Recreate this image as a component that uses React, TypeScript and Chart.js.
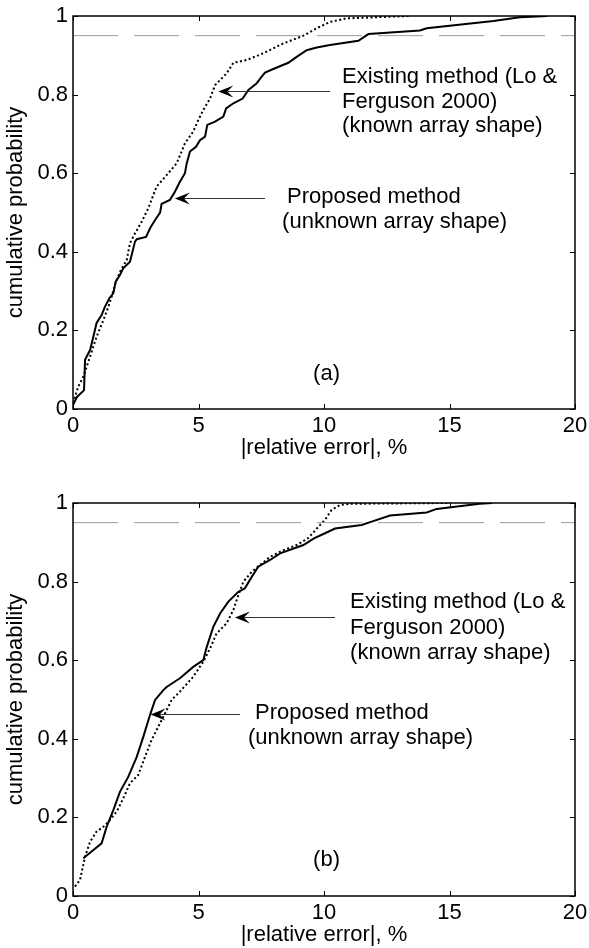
import React, { useEffect, useRef } from "react";
import { Chart, registerables } from "chart.js";

Chart.register(...registerables);

const FONT = "'Liberation Sans', Arial, Helvetica, sans-serif";

const xTicks = [0, 5, 10, 15, 20];
const yTicks = [0, 0.2, 0.4, 0.6, 0.8, 1];
const xAxisLabel = "|relative error|, %";
const yAxisLabel = "cumulative probability";
const threshold = 0.95;

// Panel (a)
const aProposedX = [0, 0.15, 0.44, 0.48, 0.68, 0.81, 0.94, 1.14, 1.27, 1.45, 1.61, 1.7, 1.87, 2.0, 2.27, 2.47, 2.54, 2.91, 3.07, 3.27, 3.47, 3.53, 3.86, 4.06, 4.26, 4.46, 4.53, 4.66, 4.9, 5.06, 5.26, 5.35, 5.66, 5.99, 6.1, 6.39, 6.76, 6.99, 7.32, 7.52, 7.65, 8.12, 8.58, 8.91, 9.31, 9.71, 10.24, 11.37, 11.77, 13.82, 14.09, 16.75, 17.8, 18.9];
const aProposedY = [0.01, 0.03, 0.048, 0.125, 0.15, 0.184, 0.219, 0.239, 0.26, 0.282, 0.295, 0.324, 0.341, 0.358, 0.375, 0.426, 0.432, 0.438, 0.46, 0.481, 0.5, 0.522, 0.532, 0.553, 0.578, 0.6, 0.625, 0.655, 0.667, 0.684, 0.693, 0.723, 0.731, 0.744, 0.765, 0.778, 0.79, 0.812, 0.829, 0.846, 0.856, 0.869, 0.881, 0.896, 0.913, 0.92, 0.926, 0.937, 0.954, 0.963, 0.969, 0.987, 0.997, 1.0];
const aExistingX = [0, 0.21, 0.41, 0.68, 0.81, 0.94, 1.21, 1.41, 1.54, 1.67, 1.87, 2.14, 2.27, 2.47, 2.74, 3.0, 3.33, 3.73, 4.13, 4.46, 4.79, 4.99, 5.19, 5.46, 5.66, 5.86, 6.12, 6.39, 6.92, 7.58, 8.3, 9.18, 9.71, 10.24, 10.9, 13.4];
const aExistingY = [0.015, 0.057, 0.082, 0.133, 0.159, 0.184, 0.226, 0.26, 0.286, 0.316, 0.349, 0.379, 0.422, 0.447, 0.477, 0.511, 0.566, 0.595, 0.625, 0.676, 0.706, 0.735, 0.761, 0.79, 0.824, 0.837, 0.854, 0.881, 0.888, 0.905, 0.928, 0.95, 0.969, 0.985, 0.994, 1.0];

// Panel (b)
const bProposedX = [0.41, 0.74, 1.14, 1.34, 1.61, 1.87, 2.2, 2.54, 2.8, 3.07, 3.27, 3.6, 3.73, 4.26, 4.79, 5.19, 5.33, 5.59, 5.86, 6.19, 6.59, 6.85, 7.12, 7.38, 7.85, 8.25, 9.18, 9.6, 10.04, 10.44, 11.5, 11.96, 12.63, 14.09, 14.49, 15.55, 16.2, 16.7];
const bProposedY = [0.096, 0.113, 0.134, 0.176, 0.219, 0.265, 0.303, 0.354, 0.405, 0.461, 0.499, 0.524, 0.532, 0.554, 0.583, 0.6, 0.634, 0.685, 0.719, 0.749, 0.774, 0.783, 0.812, 0.838, 0.855, 0.872, 0.893, 0.91, 0.923, 0.935, 0.944, 0.954, 0.968, 0.976, 0.985, 0.993, 0.998, 1.0];
const bExistingX = [0.08, 0.28, 0.48, 0.68, 0.94, 1.21, 1.47, 1.74, 2.0, 2.27, 2.6, 2.87, 3.13, 3.4, 3.67, 3.93, 4.26, 4.79, 5.19, 5.46, 5.72, 6.12, 6.39, 6.59, 6.79, 7.12, 7.45, 7.85, 8.38, 8.91, 9.38, 9.71, 10.04, 10.3, 10.64, 11.04, 15.0];
const bExistingY = [0.024, 0.041, 0.1, 0.138, 0.164, 0.176, 0.193, 0.215, 0.248, 0.287, 0.308, 0.354, 0.397, 0.431, 0.465, 0.499, 0.52, 0.558, 0.596, 0.63, 0.668, 0.694, 0.728, 0.766, 0.8, 0.825, 0.842, 0.863, 0.88, 0.893, 0.911, 0.935, 0.957, 0.982, 0.995, 0.998, 1.0];

const existingLines = ["Existing method (Lo &", "Ferguson 2000)", "(known array shape)"];
const proposedLines = ["Proposed method", "(unknown array shape)"];

type Arrow = { x1: number; y1: number; x2: number; y2: number };
type Note = { x: number; y: number; text: string; align?: CanvasTextAlign };

type Panel = {
  proposedX: number[];
  proposedY: number[];
  existingX: number[];
  existingY: number[];
  arrows: Arrow[];
  notes: Note[];
  padTop: number;
  axisHeight: number;
  titlePad: number;
};

const panels: Panel[] = [
  {
    proposedX: aProposedX,
    proposedY: aProposedY,
    existingX: aExistingX,
    existingY: aExistingY,
    arrows: [
      { x1: 10.24, y1: 0.81, x2: 5.79, y2: 0.81 },
      { x1: 7.65, y1: 0.537, x2: 4.06, y2: 0.537 },
    ],
    notes: [
      { x: 10.72, y: 0.845, text: existingLines[0] },
      { x: 10.72, y: 0.782, text: existingLines[1] },
      { x: 10.72, y: 0.72, text: existingLines[2] },
      { x: 8.53, y: 0.539, text: proposedLines[0] },
      { x: 8.33, y: 0.476, text: proposedLines[1] },
      { x: 10.1, y: 0.09, text: "(a)", align: "center" },
    ],
    padTop: 16,
    axisHeight: 65,
    titlePad: 15,
  },
  {
    proposedX: bProposedX,
    proposedY: bProposedY,
    existingX: bExistingX,
    existingY: bExistingY,
    arrows: [
      { x1: 10.44, y1: 0.711, x2: 6.45, y2: 0.711 },
      { x1: 6.65, y1: 0.463, x2: 3.09, y2: 0.463 },
    ],
    notes: [
      { x: 11.04, y: 0.749, text: existingLines[0] },
      { x: 11.04, y: 0.683, text: existingLines[1] },
      { x: 11.04, y: 0.618, text: existingLines[2] },
      { x: 7.25, y: 0.465, text: proposedLines[0] },
      { x: 6.97, y: 0.401, text: proposedLines[1] },
      { x: 10.1, y: 0.092, text: "(b)", align: "center" },
    ],
    padTop: 29,
    axisHeight: 52,
    titlePad: 2,
  },
];

function drawArrow(ctx: CanvasRenderingContext2D, x1: number, y1: number, x2: number, y2: number) {
  const ang = Math.atan2(y2 - y1, x2 - x1);
  const c = Math.cos(ang);
  const s = Math.sin(ang);
  const L = 15;
  const W = 6;
  const N = 9;
  ctx.strokeStyle = "#333";
  ctx.lineWidth = 1;
  ctx.setLineDash([]);
  ctx.beginPath();
  ctx.moveTo(x1, y1);
  ctx.lineTo(x2 - N * c, y2 - N * s);
  ctx.stroke();
  const bx = x2 - L * c;
  const by = y2 - L * s;
  ctx.fillStyle = "#000";
  ctx.beginPath();
  ctx.moveTo(x2, y2);
  ctx.lineTo(bx + W * s, by - W * c);
  ctx.lineTo(x2 - N * c, y2 - N * s);
  ctx.lineTo(bx - W * s, by + W * c);
  ctx.closePath();
  ctx.fill();
}

function makeFrame(panel: Panel) {
  return {
    id: "frame",
    afterDatasetsDraw(chart: any) {
      const { ctx, chartArea: a, scales } = chart;
      const x = scales.x;
      const y = scales.y;
      ctx.save();
      ctx.setLineDash([]);
      ctx.strokeStyle = "#000";
      ctx.lineWidth = 1;
      ctx.beginPath();
      const tl = 5;
      for (const v of xTicks) {
        const px = Math.round(x.getPixelForValue(v)) + 0.5;
        ctx.moveTo(px, a.bottom);
        ctx.lineTo(px, a.bottom - tl);
        ctx.moveTo(px, a.top);
        ctx.lineTo(px, a.top + tl);
      }
      for (const v of yTicks) {
        const py = Math.round(y.getPixelForValue(v)) + 0.5;
        ctx.moveTo(a.left, py);
        ctx.lineTo(a.left + tl, py);
        ctx.moveTo(a.right, py);
        ctx.lineTo(a.right - tl, py);
      }
      ctx.stroke();
      ctx.lineWidth = 1.5;
      ctx.strokeRect(a.left, a.top, a.right - a.left, a.bottom - a.top);

      for (const ar of panel.arrows) {
        const py1 = Math.round(y.getPixelForValue(ar.y1)) + 0.5;
        const py2 = Math.round(y.getPixelForValue(ar.y2)) + 0.5;
        drawArrow(ctx, x.getPixelForValue(ar.x1), py1, x.getPixelForValue(ar.x2), py2);
      }

      ctx.fillStyle = "#000";
      ctx.font = `22px ${FONT}`;
      ctx.textBaseline = "middle";
      for (const n of panel.notes) {
        ctx.textAlign = n.align || "left";
        ctx.fillText(n.text, x.getPixelForValue(n.x), y.getPixelForValue(n.y));
      }
      ctx.restore();
    },
  };
}

function toPoints(xs: number[], ys: number[]) {
  return xs.map((v, i) => ({ x: v, y: ys[i] }));
}

function PanelChart({ panel }: { panel: Panel }) {
  const ref = useRef<HTMLCanvasElement | null>(null);
  useEffect(() => {
    if (!ref.current) return;
    const chart = new Chart(ref.current, {
      type: "line",
      data: {
        datasets: [
          {
            label: "threshold",
            data: [
              { x: xTicks[0], y: threshold },
              { x: xTicks[xTicks.length - 1], y: threshold },
            ],
            borderColor: "#9a9a9a",
            borderWidth: 1,
            borderDash: [45, 16],
            pointRadius: 0,
          },
          {
            label: "Existing method (Lo & Ferguson 2000)",
            data: toPoints(panel.existingX, panel.existingY),
            borderColor: "#000",
            borderWidth: 2,
            borderDash: [2, 2.5],
            pointRadius: 0,
            tension: 0,
          },
          {
            label: "Proposed method",
            data: toPoints(panel.proposedX, panel.proposedY),
            borderColor: "#000",
            borderWidth: 2,
            pointRadius: 0,
            tension: 0,
          },
        ],
      },
      options: {
        animation: false,
        responsive: false,
        devicePixelRatio: 1,
        layout: { padding: { top: panel.padTop, right: 14, bottom: 0, left: 0 } },
        plugins: { legend: { display: false }, tooltip: { enabled: false } },
        scales: {
          x: {
            type: "linear",
            min: 0,
            max: 20,
            grid: { display: false, drawTicks: false },
            border: { display: false },
            afterBuildTicks: (s: any) => {
              s.ticks = xTicks.map((v) => ({ value: v }));
            },
            afterFit: (s: any) => {
              s.height = panel.axisHeight;
              s.paddingLeft = 0;
              s.paddingRight = 0;
            },
            ticks: {
              color: "#000",
              font: { family: FONT, size: 22 },
              padding: 4,
              maxRotation: 0,
              autoSkip: false,
              callback: (v: any) => String(v),
            },
            title: {
              display: true,
              text: xAxisLabel,
              color: "#000",
              font: { family: FONT, size: 22, lineHeight: 1 },
              padding: { top: 0, bottom: panel.titlePad },
            },
          },
          y: {
            type: "linear",
            min: 0,
            max: 1,
            grid: { display: false, drawTicks: false },
            border: { display: false },
            afterBuildTicks: (s: any) => {
              s.ticks = yTicks.map((v) => ({ value: v }));
            },
            afterFit: (s: any) => {
              s.width = 73;
              s.paddingTop = 0;
              s.paddingBottom = 0;
            },
            ticks: {
              color: "#000",
              font: { family: FONT, size: 22 },
              padding: 5,
              autoSkip: false,
              callback: (v: any) => String(Math.round(v * 10) / 10),
            },
            title: {
              display: true,
              text: yAxisLabel,
              color: "#000",
              font: { family: FONT, size: 22, lineHeight: 1 },
              padding: { top: 5, bottom: 0 },
            },
          },
        },
      },
      plugins: [makeFrame(panel)],
    } as any);
    return () => chart.destroy();
  }, [panel]);
  return (
    <div style={{ width: 589, height: 474 }}>
      <canvas ref={ref} width={589} height={474} style={{ display: "block", width: 589, height: 474 }} />
    </div>
  );
}

export default function App() {
  return (
    <div style={{ position: "absolute", left: 0, top: 0, width: 589, height: 948, background: "#fff" }}>
      {panels.map((p, i) => (
        <PanelChart key={i} panel={p} />
      ))}
    </div>
  );
}
